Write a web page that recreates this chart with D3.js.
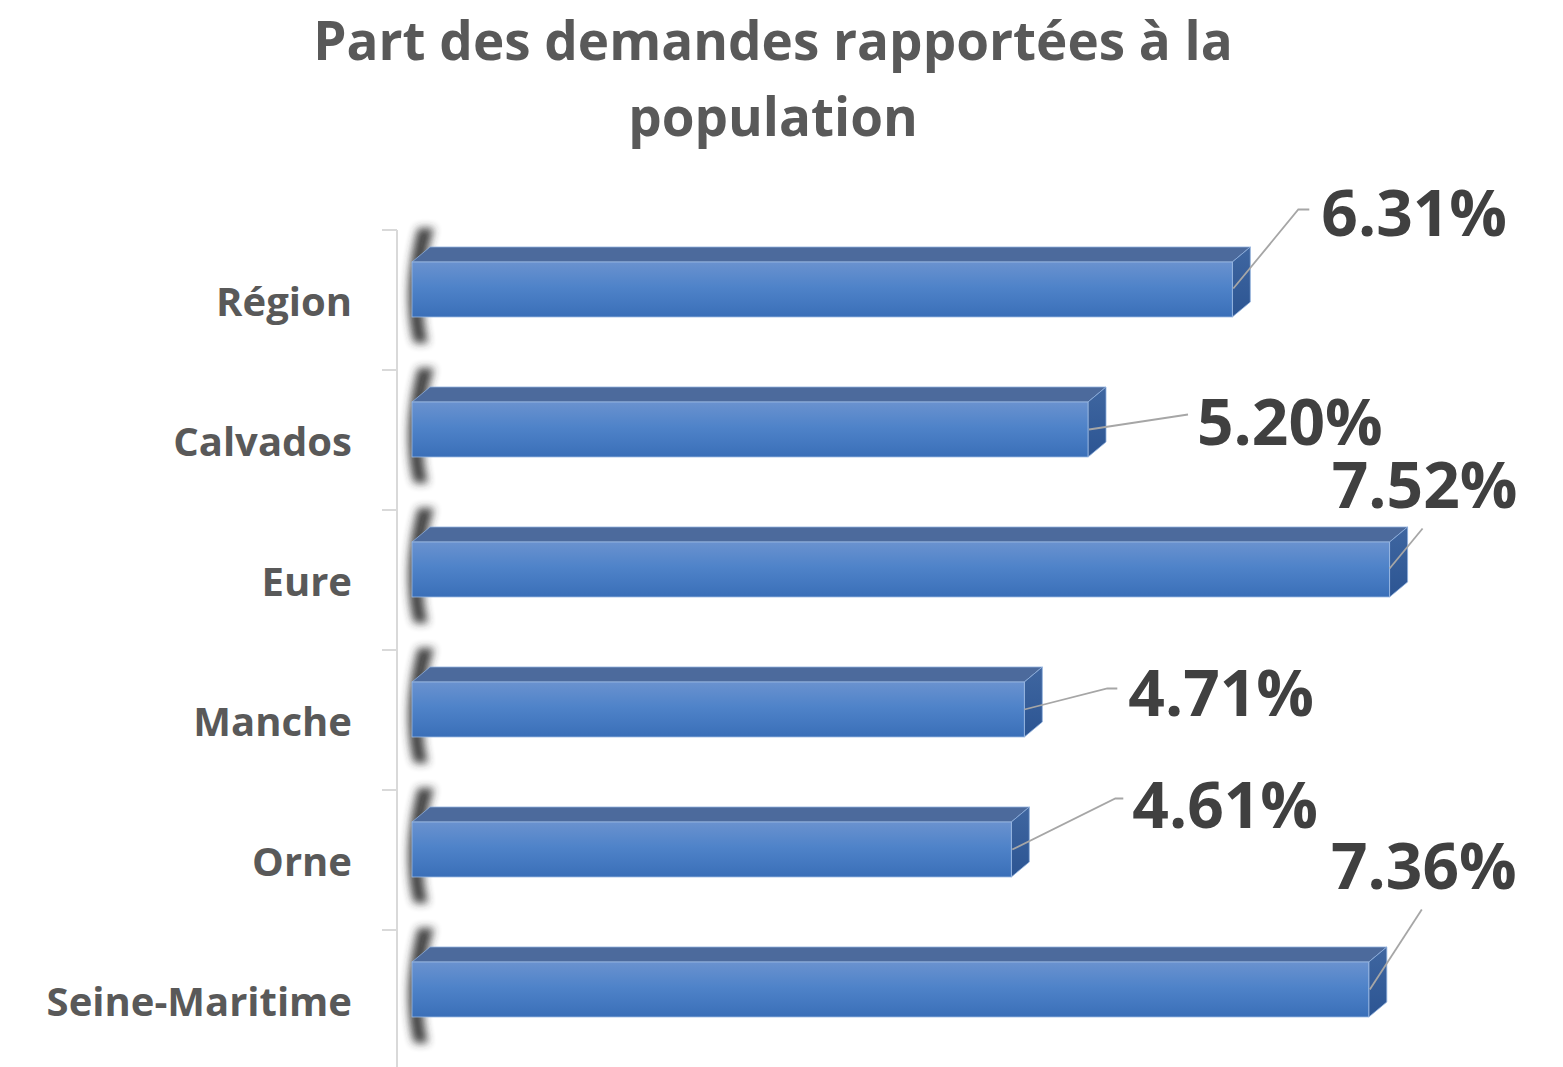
<!DOCTYPE html>
<html>
<head>
<meta charset="utf-8">
<script src="https://cdn.jsdelivr.net/npm/d3@7"></script>
<style>
  body { margin: 0; background: #fff; }
  text { font-family: "Open Sans", Lato, sans-serif; font-weight: bold; }
</style>
</head>
<body>
<div class="chart"></div>
<script>
// data
var categories = ["Région", "Calvados", "Eure", "Manche", "Orne", "Seine-Maritime"];
var values = [6.31, 5.20, 7.52, 4.71, 4.61, 7.36];
var valueLabels = ["6.31%", "5.20%", "7.52%", "4.71%", "4.61%", "7.36%"];
var titleLines = ["Part des demandes rapportées à la", "population"];

// label placement (hand-tuned, like the original callouts)
// leader points relative to bar end / bar middle, label = [x, y, anchor]
var leaders = [
    [[1, -1], [66, -80], [77, -80]],
    [[1, 0], [100, -15]],
    [[0, -1], [33, -41]],
    [[0, 0], [83, -21], [93, -21]],
    [[1, 0], [104, -51], [112, -51]],
    [[1, 0], [53, -80]]
];
var labelPos = [
    [89, -78, "start"],
    [109, -9, "start"],
    [35, -86, "middle"],
    [104, -18, "start"],
    [121, -46, "start"],
    [55, -125, "middle"]
];

var width = 1563, height = 1067;
var depthX = 18, depthY = 15, barH = 55;

var svg = d3.select(".chart").append("svg")
    .attr("width", width)
    .attr("height", height);

var defs = svg.append("defs");

var frontGrad = defs.append("linearGradient")
    .attr("id", "front").attr("x1", 0).attr("y1", 0).attr("x2", 0).attr("y2", 1);
frontGrad.append("stop").attr("offset", "0%").attr("stop-color", "#6a92cf");
frontGrad.append("stop").attr("offset", "45%").attr("stop-color", "#4f83c9");
frontGrad.append("stop").attr("offset", "100%").attr("stop-color", "#3a6fb8");

var sideGrad = defs.append("linearGradient")
    .attr("id", "side").attr("x1", 0).attr("y1", 0).attr("x2", 0).attr("y2", 1);
sideGrad.append("stop").attr("offset", "0%").attr("stop-color", "#3f66a0");
sideGrad.append("stop").attr("offset", "100%").attr("stop-color", "#2c5593");

defs.append("filter").attr("id", "blur")
    .attr("x", "-100%").attr("y", "-50%").attr("width", "300%").attr("height", "200%")
    .append("feGaussianBlur").attr("stdDeviation", 4.5);

var x = d3.scaleLinear()
    .domain([0, 8])
    .range([412, 412 + 8 * 130]);

var y = d3.scaleBand()
    .domain(categories)
    .range([230, 1070]);

// title
svg.append("text")
    .attr("x", 773)
    .attr("text-anchor", "middle")
    .attr("fill", "#595959")
    .style("font-size", "53px")
    .selectAll("tspan")
    .data(titleLines)
    .enter()
    .append("tspan")
    .attr("x", 773)
    .attr("y", function (d, i) { return 60 + i * 76; })
    .text(function (d) { return d; });

// axis
svg.append("line")
    .attr("x1", 397).attr("x2", 397)
    .attr("y1", 230).attr("y2", 1067)
    .attr("stroke", "#d9d9d9").attr("stroke-width", 2);

svg.selectAll(".tick")
    .data(categories)
    .enter()
    .append("line")
    .attr("class", "tick")
    .attr("x1", 382).attr("x2", 397)
    .attr("y1", function (d) { return y(d); })
    .attr("y2", function (d) { return y(d); })
    .attr("stroke", "#d9d9d9").attr("stroke-width", 2);

svg.selectAll(".cat")
    .data(categories)
    .enter()
    .append("text")
    .attr("class", "cat")
    .attr("x", 352)
    .attr("y", function (d) { return y(d) + 86; })
    .attr("text-anchor", "end")
    .attr("fill", "#595959")
    .style("font-size", "40px")
    .text(function (d) { return d; });

var bars = svg.selectAll(".bar")
    .data(values)
    .enter()
    .append("g")
    .attr("class", "bar");

bars.each(function (v, i) {
    var g = d3.select(this);
    var top = y(categories[i]) + 32;
    var x0 = x(0), x1 = x(v);

    // break shadow on the left wall
    g.append("path")
        .attr("d", "M" + (x0 + 6) + "," + (top - 34) +
            " C" + (x0 - 6) + "," + (top + 10) + " " + (x0 - 6) + "," + (top + 50) + " " + (x0 + 2) + "," + (top + barH + 26) +
            " L" + (x0 + 16) + "," + (top + barH + 26) +
            " C" + (x0 + 8) + "," + (top + 50) + " " + (x0 + 8) + "," + (top + 10) + " " + (x0 + 22) + "," + (top - 34) + " Z")
        .attr("fill", "#2e2e2e")
        .attr("filter", "url(#blur)")
        .attr("opacity", 0.9);

    // top face
    g.append("path")
        .attr("d", "M" + x0 + "," + top + " L" + (x0 + depthX) + "," + (top - depthY) +
            " L" + (x1 + depthX) + "," + (top - depthY) + " L" + x1 + "," + top + " Z")
        .attr("fill", "#4c6a9c")
        .attr("stroke", "#8fb0dd").attr("stroke-width", 0.8);

    // side face
    g.append("path")
        .attr("d", "M" + x1 + "," + top + " L" + (x1 + depthX) + "," + (top - depthY) +
            " L" + (x1 + depthX) + "," + (top + barH - depthY) + " L" + x1 + "," + (top + barH) + " Z")
        .attr("fill", "url(#side)")
        .attr("stroke", "#8fb0dd").attr("stroke-width", 0.8);

    // front face
    g.append("rect")
        .attr("x", x0).attr("y", top)
        .attr("width", x1 - x0).attr("height", barH)
        .attr("fill", "url(#front)")
        .attr("stroke", "#9dbbe4").attr("stroke-width", 0.8);

    // leader line and value
    var mid = top + barH / 2;
    var pts = leaders[i].map(function (p) { return [x1 + p[0], mid + p[1]]; });
    g.append("path")
        .attr("d", d3.line()(pts))
        .attr("fill", "none")
        .attr("stroke", "#a6a6a6").attr("stroke-width", 1.8);

    var lp = labelPos[i];
    g.append("text")
        .attr("x", x1 + lp[0])
        .attr("y", mid + lp[1] + 24)
        .attr("text-anchor", lp[2])
        .attr("fill", "#404040")
        .style("font-size", "64px")
        .text(valueLabels[i]);
});
</script>
</body>
</html>
